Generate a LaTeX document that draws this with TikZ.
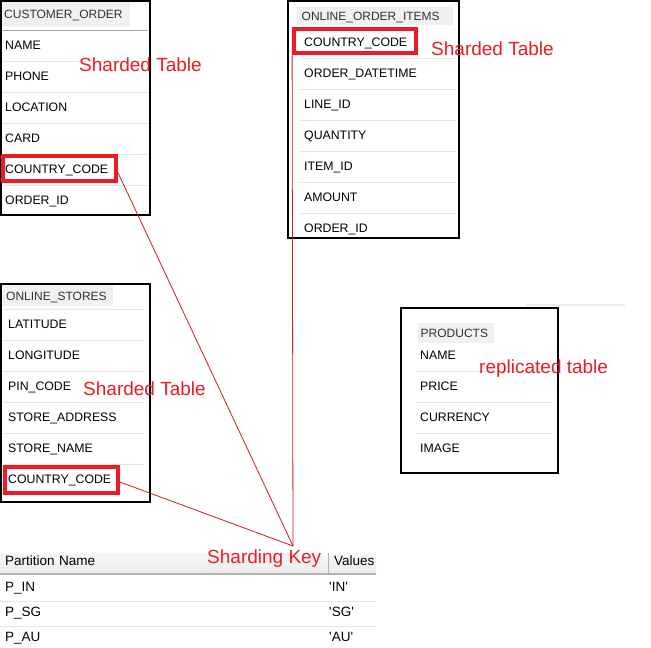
\documentclass[tikz,border=0pt]{standalone}
\usepackage{fontspec}
\setmainfont{Liberation Sans}

\definecolor{keyred}{HTML}{ED1C24}
\definecolor{rowgray}{HTML}{E4E4E4}
\definecolor{headgray}{HTML}{F0F0F0}

\begin{document}
\begin{tikzpicture}[x=1pt, y=-1pt, node distance={31pt},
    field/.style = {rectangle, inner xsep=4pt, inner ysep=0pt, minimum height=31pt, text width=#1, align=left, text height=8.8pt, text depth=2pt, font=\fontsize{12.3}{14}\selectfont},
    head/.style = {anchor=west, inner sep=0pt, text height=8.6pt, text depth=0pt, text=black!80, font=\fontsize{12}{14}\selectfont},
    cell/.style = {inner sep=0pt, text width=#1, align=left, text height=9.7pt, text depth=0pt, font=\fontsize{13.5}{15}\selectfont},
    keybox/.style = {draw=keyred, line width=3.8pt, rectangle, inner sep=0pt},
    note/.style = {anchor=base west, inner sep=0pt, text=keyred, font=\fontsize{19}{22}\selectfont},
    tbl/.style = {draw=black, line width=1.2pt},
    rowline/.style = {draw=rowgray, line width=1pt},
    keyline/.style = {draw=keyred!90!black, line width=0.8pt}]
    \useasboundingbox (0,0) rectangle (651,648);

    % CUSTOMER_ORDER
    \fill[headgray] (2,2) rectangle (130,26);
    \node[head] (co_h) at (4,14.5) {CUSTOMER\_ORDER};
    \node[field=139pt, anchor=west] (co_1) at (1,46) {NAME};
    \node[field=139pt] (co_2) [below of=co_1] {PHONE};
    \node[field=139pt] (co_3) [below of=co_2] {LOCATION};
    \node[field=139pt] (co_4) [below of=co_3] {CARD};
    \node[field=139pt] (co_5) [below of=co_4] {COUNTRY\_CODE};
    \node[field=139pt] (co_6) [below of=co_5] {ORDER\_ID};
    \draw[draw=gray!70, line width=1pt] (co_1.north west) -- (co_1.north east);
    \foreach \i in {1,...,5} \draw[rowline] (co_\i.south west) -- (co_\i.south east);
    \draw[tbl] (1,1) rectangle (150,215);
    \node[keybox, minimum width=113pt, minimum height=25pt] (co_key) at (59.5,168.5) {};
    \node[note] (co_note) at (79,71.5) {Sharded Table};

    % ONLINE_ORDER_ITEMS
    \fill[headgray] (297,7) rectangle (453,25);
    \node[head] (oi_h) at (301.5,16) {ONLINE\_ORDER\_ITEMS};
    \node[field=149pt, anchor=west] (oi_1) at (300,43) {COUNTRY\_CODE};
    \node[field=149pt] (oi_2) [below of=oi_1] {ORDER\_DATETIME};
    \node[field=149pt] (oi_3) [below of=oi_2] {LINE\_ID};
    \node[field=149pt] (oi_4) [below of=oi_3] {QUANTITY};
    \node[field=149pt] (oi_5) [below of=oi_4] {ITEM\_ID};
    \node[field=149pt] (oi_6) [below of=oi_5] {AMOUNT};
    \node[field=149pt] (oi_7) [below of=oi_6] {ORDER\_ID};
    \foreach \i in {1,...,6} \draw[rowline] (oi_\i.south west) -- (oi_\i.south east);
    \draw[tbl] (288,1) rectangle (459,238);
    \node[keybox, minimum width=122pt, minimum height=24pt] (oi_key) at (355,41) {};
    \node[note] (oi_note) at (431,55) {Sharded Table};

    % ONLINE_STORES
    \fill[headgray] (2,285) rectangle (113,306);
    \node[head] (os_h) at (6,296) {ONLINE\_STORES};
    \node[field=132pt, anchor=west] (os_1) at (4,325) {LATITUDE};
    \node[field=132pt] (os_2) [below of=os_1] {LONGITUDE};
    \node[field=132pt] (os_3) [below of=os_2] {PIN\_CODE};
    \node[field=132pt] (os_4) [below of=os_3] {STORE\_ADDRESS};
    \node[field=132pt] (os_5) [below of=os_4] {STORE\_NAME};
    \node[field=132pt] (os_6) [below of=os_5] {COUNTRY\_CODE};
    \draw[rowline] (os_1.north west) -- (os_1.north east);
    \foreach \i in {1,...,5} \draw[rowline] (os_\i.south west) -- (os_\i.south east);
    \draw[tbl] (1,284) rectangle (150,502);
    \node[keybox, minimum width=113pt, minimum height=26pt] (os_key) at (61.5,480) {};
    \node[note] (os_note) at (83,395) {Sharded Table};

    % PRODUCTS
    \draw[draw=gray!15, line width=2pt] (526,305) -- (625,305);
    \fill[headgray] (418,323) rectangle (494,343);
    \node[head] (pr_h) at (420.5,333) {PRODUCTS};
    \node[field=128pt, anchor=west] (pr_1) at (416,356) {NAME};
    \node[field=128pt] (pr_2) [below of=pr_1] {PRICE};
    \node[field=128pt] (pr_3) [below of=pr_2] {CURRENCY};
    \node[field=128pt] (pr_4) [below of=pr_3] {IMAGE};
    \foreach \i in {1,...,3} \draw[rowline] (pr_\i.south west) -- (pr_\i.south east);
    \draw[tbl] (401,308) rectangle (558,473);
    \node[note] (pr_note) at (479,373) {replicated table};

    % partitions
    \fill[top color=gray!6, bottom color=gray!16] (0,553) rectangle (376,573);
    \draw[draw=gray!60, line width=1pt] (328,553) -- (328,573);
    \draw[draw=gray!60, line width=1.5pt] (0,574) -- (376,574);
    \draw[rowline] (0,601) -- (376,601);
    \draw[rowline] (0,626) -- (376,626);
    \node[cell=95pt, anchor=west] (pn_h) at (5,560.5) {Partition Name};
    \node[cell=45pt, anchor=west] (pv_h) at (334,560.5) {Values};
    \begin{scope}[node distance={25pt}]
    \node[cell=60pt, anchor=west] (pn_1) at (5,587) {P\_IN};
    \node[cell=60pt] (pn_2) [below of=pn_1] {P\_SG};
    \node[cell=60pt] (pn_3) [below of=pn_2] {P\_AU};
    \node[cell=40pt, anchor=west] (pv_1) at (329,587) {\textquotesingle IN\textquotesingle};
    \node[cell=40pt] (pv_2) [below of=pv_1] {\textquotesingle SG\textquotesingle};
    \node[cell=40pt] (pv_3) [below of=pv_2] {\textquotesingle AU\textquotesingle};
    \end{scope}
    \node[note] (sk_note) at (207,563) {Sharding Key};

    % sharding key lines
    \coordinate (sk) at (293,546);
    \draw[keyline] ([yshift=-4pt]co_key.east) -- (sk);
    \draw[keyline] ([yshift=-2pt]os_key.east) -- (sk);
    \draw[keyline] (oi_key.south west) -- (sk);
\end{tikzpicture}
\end{document}
